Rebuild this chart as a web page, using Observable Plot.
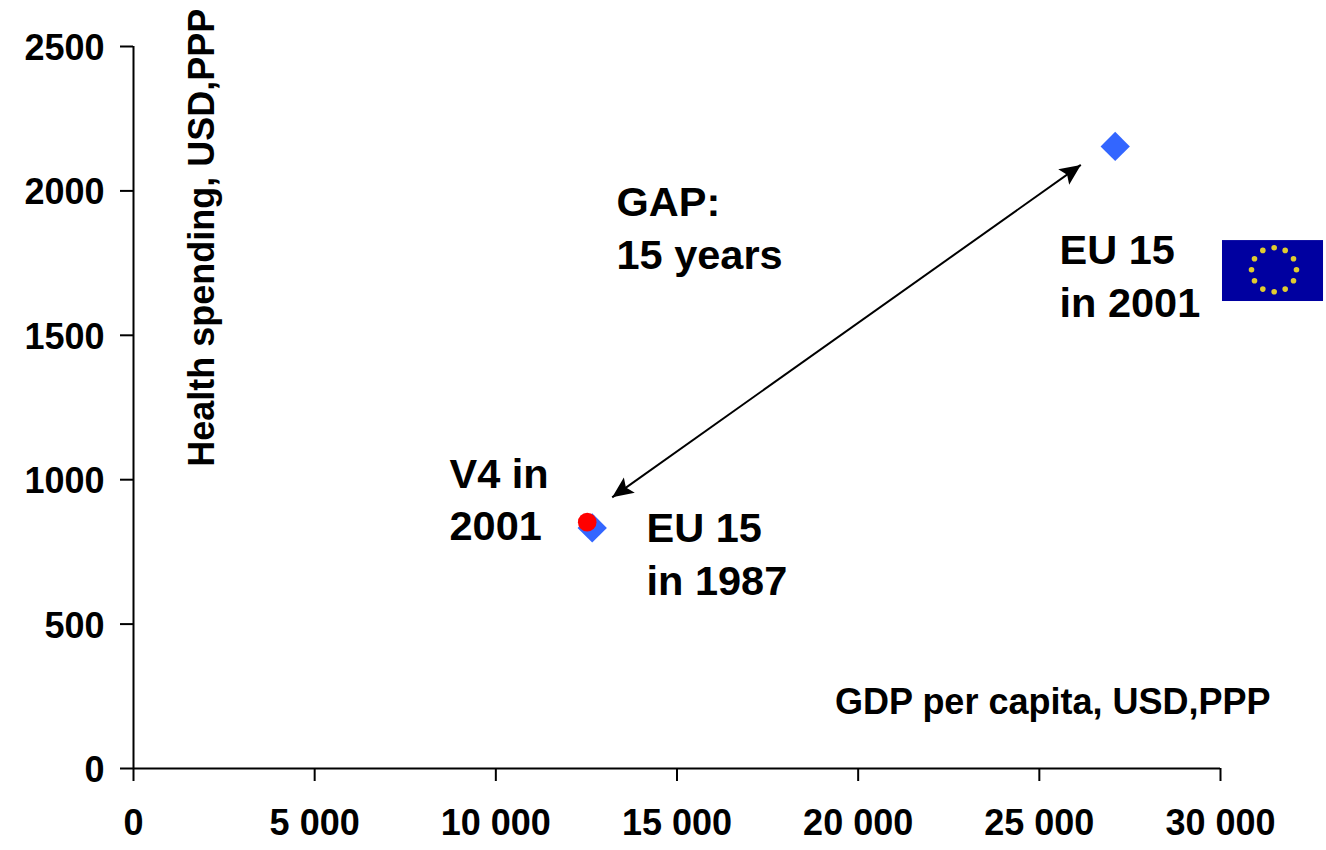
<!DOCTYPE html>
<html>
<head>
<meta charset="utf-8">
<style>html,body{margin:0;padding:0;background:#fff}svg{display:block}</style>
<script src="https://cdn.jsdelivr.net/npm/d3@7"></script>
<script src="https://cdn.jsdelivr.net/npm/@observablehq/plot@0.6"></script>
</head>
<body>
<div id="chart"></div>
<script>
const xTicks = [0, 5000, 10000, 15000, 20000, 25000, 30000];
const yTicks = [0, 500, 1000, 1500, 2000, 2500];

const eu15 = [{gdp: 12660, health: 833}, {gdp: 27094, health: 2154}];
const v4 = [{gdp: 12522, health: 853}];

const gapArrow = [{x1: 13212, y1: 939, x2: 26145, y2: 2090}];
const arrowHeads = [
  {gdp: 26145, health: 2090, angle: 54.6},
  {gdp: 13212, health: 939, angle: 234.6}
];

const labels = [
  {text: "GAP:\n15 years", gdp: 13330, health: 1880},
  {text: "EU 15\nin 2001", gdp: 25556, health: 1713},
  {text: "V4 in\n2001", gdp: 8721, health: 940},
  {text: "EU 15\nin 1987", gdp: 14158, health: 752}
];
const xTitle = [{text: "GDP per capita, USD,PPP", gdp: 31380, health: 229}];
const yTitle = [{text: "Health spending, USD,PPP", gdp: 1904, health: 1838}];

const flag = [{x1: 30055, x2: 32843, y1: 1617, y2: 1828}];
const flagStars = [
  {gdp: 31481, health: 1803}, {gdp: 31785, health: 1794}, {gdp: 32015, health: 1765},
  {gdp: 32097, health: 1727}, {gdp: 32015, health: 1689}, {gdp: 31785, health: 1660},
  {gdp: 31481, health: 1651}, {gdp: 31168, health: 1660}, {gdp: 30938, health: 1689},
  {gdp: 30856, health: 1727}, {gdp: 30938, health: 1765}, {gdp: 31168, health: 1794}
];

const arrowHead = {
  draw(ctx, size) {
    const r = Math.sqrt(size / Math.PI);
    ctx.moveTo(0, 0);
    ctx.lineTo(0.45 * r, r);
    ctx.lineTo(0, 0.8 * r);
    ctx.lineTo(-0.45 * r, r);
    ctx.closePath();
  }
};

const fmt = d => d3.format(",")(d).replace(/,/g, " ");

const chart = Plot.plot({
  width: 1326,
  height: 850,
  marginLeft: 133,
  marginRight: 106,
  marginTop: 46,
  marginBottom: 82,
  style: {fontFamily: "'Liberation Sans', Arial, sans-serif", background: "#fff", color: "#000", overflow: "visible"},
  x: {domain: [0, 30000]},
  y: {domain: [0, 2500]},
  marks: [
    Plot.axisX({ticks: xTicks, tickSize: 13, tickPadding: 28, tickFormat: fmt, fontSize: 36, fontWeight: "bold", label: null, strokeWidth: 2, stroke: "#000", color: "#000"}),
    Plot.axisY({ticks: yTicks, tickSize: 13, text: null, label: null, strokeWidth: 2, stroke: "#000"}),
    Plot.axisY({ticks: yTicks, tickSize: 0, tickPadding: 29, dy: 2, tickFormat: d => String(d), fontSize: 36, fontWeight: "bold", label: null, color: "#000"}),
    Plot.ruleX([0], {stroke: "#000", strokeWidth: 2}),
    Plot.ruleY([0], {stroke: "#000", strokeWidth: 2}),
    Plot.rect(flag, {x1: "x1", x2: "x2", y1: "y1", y2: "y2", fill: "#0000a0"}),
    Plot.dot(flagStars, {x: "gdp", y: "health", r: 2.8, fill: "#e0cc30"}),
    Plot.link(gapArrow, {x1: "x1", y1: "y1", x2: "x2", y2: "y2", stroke: "#000", strokeWidth: 2}),
    Plot.dot(arrowHeads, {x: "gdp", y: "health", rotate: "angle", symbol: arrowHead, r: 21, fill: "#000"}),
    Plot.dot(eu15, {x: "gdp", y: "health", symbol: "diamond2", r: 13.2, fill: "#3366ff"}),
    Plot.dot(v4, {x: "gdp", y: "health", r: 9.3, fill: "#ff0000"}),
    Plot.text(labels, {x: "gdp", y: "health", text: "text", textAnchor: "start", lineAnchor: "middle", lineHeight: 1.27, fontSize: 41.5, fontWeight: "bold", fill: "#000"}),
    Plot.text(xTitle, {x: "gdp", y: "health", text: "text", textAnchor: "end", lineAnchor: "middle", fontSize: 36, fontWeight: "bold", fill: "#000"}),
    Plot.text(yTitle, {x: "gdp", y: "health", text: "text", rotate: -90, textAnchor: "middle", lineAnchor: "middle", fontSize: 36, fontWeight: "bold", fill: "#000"})
  ]
});
document.getElementById("chart").append(chart);
</script>
</body>
</html>
